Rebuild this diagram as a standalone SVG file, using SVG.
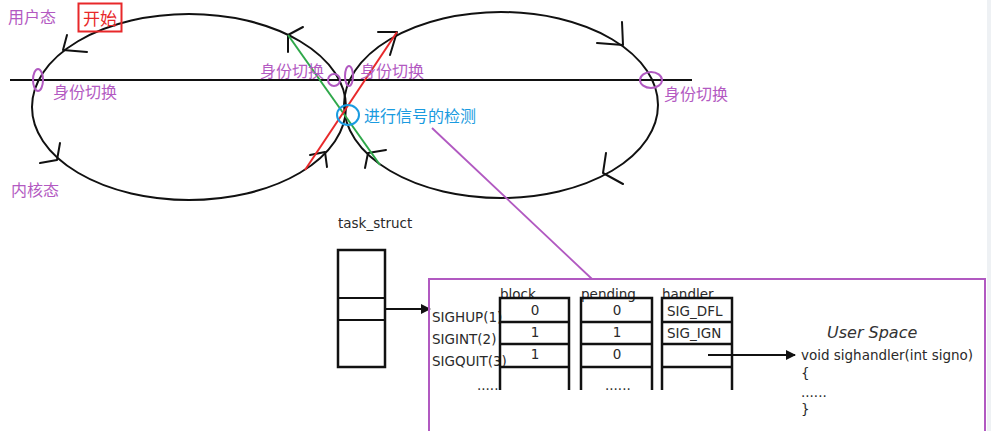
<svg xmlns="http://www.w3.org/2000/svg" width="991" height="431" viewBox="0 0 991 431">
<style>
.loop{fill:none;stroke:#111;stroke-width:2}
.chev{fill:none;stroke:#111;stroke-width:2;stroke-linecap:round;stroke-linejoin:round}
.pm{fill:none;stroke:#b159c1;stroke-width:2}
.pl{font-family:"Noto Sans CJK SC","Noto Sans",sans-serif;font-size:16px;fill:#b35ac2}
.tb{fill:none;stroke:#111;stroke-width:2.5}
.t{font-family:"DejaVu Sans","Noto Sans",sans-serif;font-size:13.5px;fill:#2a2a2a}
</style>
<defs>
<marker id="ah" viewBox="0 0 10 10" refX="9" refY="5" markerWidth="10" markerHeight="10" markerUnits="userSpaceOnUse" orient="auto">
<path d="M0,0 L10,5 L0,10 Z" fill="#111"/>
</marker>
</defs>
<rect width="991" height="431" fill="#fff"/>
<rect x="987" y="0" width="4" height="431" fill="#eef1f4"/>

<g id="axis"><line x1="10" y1="80" x2="692" y2="80" stroke="#111" stroke-width="2"/></g>

<g id="left-loop">
<ellipse class="loop" cx="189" cy="107" rx="157" ry="93"/>
<polyline class="chev" points="67,35 63,50 87,52"/>
<polyline class="chev" points="60,143 57,160 40,163"/>
<polyline class="chev" points="310,155 325,152 327,167"/>
<polyline class="chev" points="303,27 288,35 288,52"/>
</g>

<g id="right-loop">
<ellipse class="loop" cx="501" cy="105" rx="157" ry="93"/>
<polyline class="chev" points="378,32 397,32 390,55"/>
<polyline class="chev" points="622,22 623,45 597,43"/>
<polyline class="chev" points="606,153 603,173 623,184"/>
<polyline class="chev" points="386,150 368,153 365,168"/>
</g>

<g id="connectors">
<line x1="288" y1="35" x2="380" y2="165" stroke="#2fa84a" stroke-width="2"/>
<line x1="305" y1="170" x2="397" y2="32" stroke="#e8282a" stroke-width="2"/>
<line x1="432" y1="128" x2="592" y2="279" stroke="#b159c1" stroke-width="1.8"/>
<line x1="385" y1="309" x2="430" y2="309" stroke="#111" stroke-width="2" marker-end="url(#ah)"/>
<line x1="708" y1="355" x2="795" y2="355" stroke="#111" stroke-width="2" marker-end="url(#ah)"/>
</g>

<g id="switch-marks">
<ellipse class="pm" cx="38" cy="80" rx="5" ry="11"/>
<ellipse class="pm" cx="334" cy="80" rx="6" ry="6"/>
<ellipse class="pm" cx="349" cy="76" rx="4" ry="10"/>
<ellipse class="pm" cx="651" cy="80" rx="11" ry="8"/>
</g>

<g id="labels">
<text class="pl" x="8" y="23">用户态</text>
<text class="pl" x="11" y="196">内核态</text>
<text class="pl" x="53" y="98">身份切换</text>
<text class="pl" x="260" y="77">身份切换</text>
<text class="pl" x="360" y="77">身份切换</text>
<text class="pl" x="664" y="100">身份切换</text>
</g>

<g id="start">
<rect x="78.5" y="3.5" width="43" height="28" fill="none" stroke="#e8282a" stroke-width="2"/>
<text x="83" y="25" font-family="Noto Sans CJK SC, sans-serif" font-size="17" fill="#e8282a">开始</text>
</g>

<g id="signal-check">
<ellipse cx="348" cy="115" rx="11" ry="10" fill="none" stroke="#1a9be0" stroke-width="2"/>
<text x="364" y="122" font-family="Noto Sans CJK SC, sans-serif" font-size="16" fill="#1a9be0">进行信号的检测</text>
</g>

<g id="task_struct">
<text class="t" x="338" y="228" font-size="14">task_struct</text>
<rect class="tb" x="338" y="250" width="47" height="117" stroke-width="2"/>
<line x1="338" y1="298" x2="385" y2="298" stroke="#111" stroke-width="2"/>
<line x1="338" y1="320" x2="385" y2="320" stroke="#111" stroke-width="2"/>
</g>

<g id="kernel-box">
<path d="M429,431 V279 H985 V431" fill="none" stroke="#b159c1" stroke-width="2"/>
</g>

<g id="signal-names">
<text class="t" x="432" y="322">SIGHUP(1)</text>
<text class="t" x="432" y="344">SIGINT(2)</text>
<text class="t" x="432" y="366">SIGQUIT(3)</text>
<text class="t" x="477" y="390">.....</text>
</g>

<g id="block">
<text class="t" x="500" y="299" font-size="14">block</text>
<path class="tb" d="M500,390 V298 H569 V390 M500,322 H569 M500,344 H569 M500,367 H569"/>
<text class="t" x="535" y="315" text-anchor="middle">0</text>
<text class="t" x="535" y="337" text-anchor="middle">1</text>
<text class="t" x="535" y="359" text-anchor="middle">1</text>
</g>

<g id="pending">
<text class="t" x="581" y="299" font-size="14">pending</text>
<path class="tb" d="M581,390 V298 H652 V390 M581,322 H652 M581,344 H652 M581,367 H652"/>
<text class="t" x="617" y="315" text-anchor="middle">0</text>
<text class="t" x="617" y="337" text-anchor="middle">1</text>
<text class="t" x="617" y="359" text-anchor="middle">0</text>
<text class="t" x="605" y="390">......</text>
</g>

<g id="handler">
<text class="t" x="662" y="299" font-size="14">handler</text>
<path class="tb" d="M662,390 V298 H732 V390 M662,322 H732 M662,344 H732 M662,367 H732"/>
<text class="t" x="667" y="316">SIG_DFL</text>
<text class="t" x="667" y="338">SIG_IGN</text>
</g>

<g id="user-space">
<text x="827" y="338" font-family="DejaVu Sans, sans-serif" font-style="italic" font-size="16" fill="#333">User Space</text>
<text class="t" x="801" y="360" textLength="172">void sighandler(int signo)</text>
<text class="t" x="801" y="378">{</text>
<text class="t" x="801" y="397">......</text>
<text class="t" x="801" y="414">}</text>
</g>
</svg>
